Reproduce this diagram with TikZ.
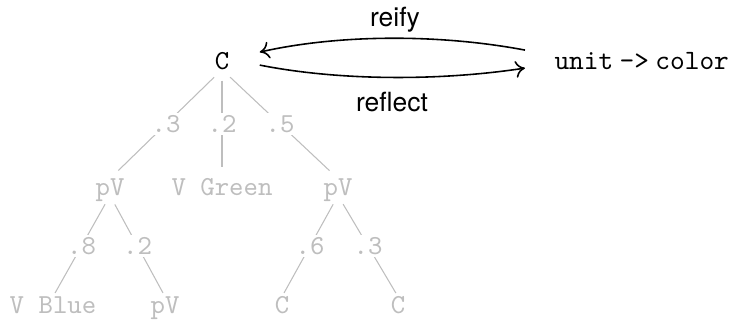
\documentclass[tikz,border=0pt]{standalone}
\usepackage{fontspec}
\setsansfont{TeX Gyre Heros}
\usetikzlibrary{calc,arrows.meta}
\definecolor{treegray}{RGB}{190,190,190}
\begin{document}
\begin{tikzpicture}[x=0.3785pt,y=-0.3785pt,
  tn/.style={font=\ttfamily\fontsize{10.4}{12}\selectfont, text=treegray, inner sep=0pt, text height=6pt, text depth=0pt, anchor=base},
  lbl/.style={font=\ttfamily\fontsize{10.4}{12}\selectfont, text=treegray, fill=white, inner sep=1pt},
  eone/.style={draw=treegray, line width=0.4pt, shorten <=4.2pt, shorten >=4.4pt},
  etwo/.style={draw=treegray, line width=0.4pt, shorten <=3.8pt, shorten >=1.6pt},
  arr/.style={-{Computer Modern Rightarrow[length=3.6pt,width=6.4pt]}, line width=0.6pt, black},
  slbl/.style={font=\sffamily, inner sep=0pt}]
\useasboundingbox (0,0) rectangle (733,327);
% top row
\node[font=\ttfamily\fontsize{10.4}{12}\selectfont, inner sep=0pt, text height=6pt, text depth=0pt, anchor=base] (root) at (222,69) {C};
\node[font=\ttfamily\fontsize{10.6}{12}\selectfont, inner sep=0pt, anchor=base west, text height=6pt, text depth=0pt] (u) at (554,69) {unit\hspace{2.4pt}->\hspace{2.4pt}color};
\draw[arr] ($(u.west)+(-29,-11)$) .. controls (440,34) and (340,34) .. ($(root.east)+(30,-9)$);
\draw[arr] ($(root.east)+(30,4)$) .. controls (340,81) and (440,81) .. ($(u.west)+(-29,7)$);
\node[slbl] (reify) at (395,20) {reify};
\node[slbl] (reflect) at (392,102) {reflect};
% tree
\node[tn] (a) at (110,195) {pV};
\node[tn] (b) at (222,195) {V Green};
\node[tn] (c) at (338,195) {pV};
\node[tn] (aa) at (53,313) {V Blue};
\node[tn] (ab) at (165,313) {pV};
\node[tn] (ca) at (282,313) {C};
\node[tn] (cb) at (398,313) {C};
\draw[eone] (root.south) -- node[lbl] {.3} (a.north);
\draw[eone] (root.south) -- node[lbl] {.2} (b.north);
\draw[eone] (root.south) -- node[lbl] {.5} (c.north);
\draw[etwo] (a.south) -- node[lbl] {.8} (aa.north);
\draw[etwo] (a.south) -- node[lbl] {.2} (ab.north);
\draw[etwo] (c.south) -- node[lbl] {.6} (ca.north);
\draw[etwo] (c.south) -- node[lbl] {.3} (cb.north);
\end{tikzpicture}
\end{document}
